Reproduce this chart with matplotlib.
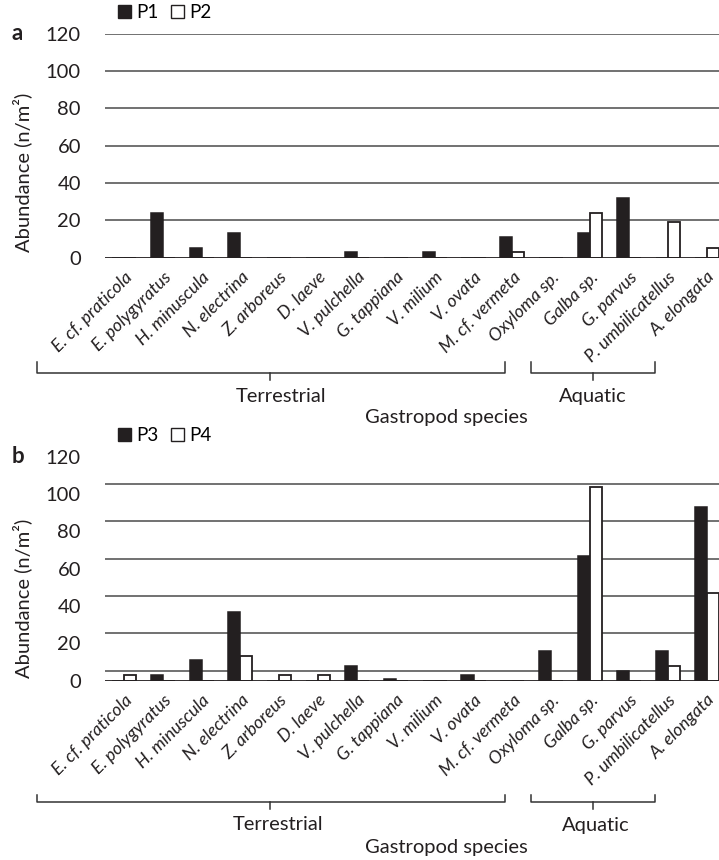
import numpy as np
import matplotlib
matplotlib.use("Agg")
import matplotlib.pyplot as plt
import matplotlib.transforms as mtransforms
from matplotlib.patches import Patch
from matplotlib.lines import Line2D

plt.rcParams['font.family'] = ['Lato', 'DejaVu Sans']

species = ["E. cf. praticola", "E. polygyratus", "H. minuscula", "N. electrina",
           "Z. arboreus", "D. laeve", "V. pulchella", "G. tappiana", "V. milium",
           "V. ovata", "M. cf. vermeta", "Oxyloma sp.", "Galba sp.", "G. parvus",
           "P. umbilicatellus", "A. elongata"]

p1 = [0, 24, 5, 13, 0, 0, 3, 0, 3, 0, 11, 0, 13, 32, 0, 0]
p2 = [0, 0, 0, 0, 0, 0, 0, 0, 0, 0, 3, 0, 24, 0, 19, 5]
p3 = [0, 3, 11, 37, 0, 0, 8, 1, 0, 3, 0, 16, 67, 5, 16, 93]
p4 = [3, 0, 0, 13, 3, 3, 0, 0, 0, 0, 0, 0, 104, 0, 8, 47]

yticks = [0, 20, 40, 60, 80, 100, 120]
grid_a = [20, 40, 60, 80, 100, 120]
grid_b = [5.3, 25.3, 45.3, 65.3, 85.3, 105.3]   # grid sits off the tick labels in panel b

W, H = 719, 860
dark = "#231f20"
FS = 14.5


def fx(x):
    return x / W


def fy(y):
    return 1 - y / H


def panel(base_px, vals_l, vals_r, names, gridlines, letter):
    ax = fig.add_axes([fx(104.5), fy(base_px), fx(719) - fx(104.5), 224 / H])
    x = np.arange(len(species))
    w = 0.31
    for g in gridlines:
        ax.axhline(g, color="#4a4a4a", lw=1.1, zorder=1)
    ax.axhline(0, color=dark, lw=1.3, zorder=3)
    ax.bar(x - w / 2, vals_l, w, color=dark, edgecolor=dark, lw=1.1, zorder=2)
    ax.bar(x + w / 2, vals_r, w, color="white", edgecolor=dark, lw=1.3, zorder=2)
    ax.set_ylim(0, 120)
    ax.set_xlim(-0.5, 15.32)
    ax.set_yticks(yticks)
    ax.set_xticks(x)
    ax.set_xticklabels(species, rotation=45, ha="right", rotation_mode="anchor",
                       style="italic", fontsize=12.8, color=dark)
    shift = mtransforms.ScaledTranslation(8 / 100, -4 / 100, fig.dpi_scale_trans)
    for lab in ax.get_xticklabels():
        lab.set_transform(lab.get_transform() + shift)
    ax.tick_params(axis="x", length=0, pad=8)
    ax.tick_params(axis="y", length=0, pad=17, labelsize=FS, colors=dark)
    for s in ax.spines.values():
        s.set_visible(False)
    handles = [Patch(facecolor=dark, edgecolor=dark), Patch(facecolor="white", edgecolor=dark)]
    fig.legend(handles, names, loc="upper left",
               bbox_to_anchor=(fx(118), fy(base_px - 258 + 4)), ncol=2, frameon=False,
               fontsize=13.5, handlelength=0.7, handleheight=0.7, handletextpad=0.25,
               columnspacing=0.7, borderaxespad=0, borderpad=0)
    fig.text(fx(12), fy(base_px - 224), letter, fontsize=16, fontweight="bold",
             ha="left", va="center", color=dark)
    return ax


def bracket(x0, x1, xm, ytop, yline, ynotch):
    kw = dict(color="#333333", lw=1.1, transform=fig.transFigure)
    fig.add_artist(Line2D([fx(x0), fx(x0), fx(x1), fx(x1)],
                          [fy(ytop), fy(yline), fy(yline), fy(ytop)], **kw))
    fig.add_artist(Line2D([fx(xm), fx(xm)], [fy(yline), fy(ynotch)], **kw))


fig = plt.figure(figsize=(W / 100, H / 100), dpi=100)

panel(257.7, p1, p2, ["P1", "P2"], grid_a, "a")
panel(680.7, p3, p4, ["P3", "P4"], grid_b, "b")

fig.text(fx(22), fy(172), "Abundance (n/m²)", rotation=90, ha="center", va="center",
         fontsize=FS, color=dark)
fig.text(fx(22), fy(598), "Abundance (n/m²)", rotation=90, ha="center", va="center",
         fontsize=FS, color=dark)

# group brackets, panel a
bracket(37, 505, 270, 362, 373, 380)
bracket(531, 655, 593, 362, 373, 380)
fig.text(fx(281), fy(396), "Terrestrial", ha="center", va="center", fontsize=FS, color=dark)
fig.text(fx(593), fy(396), "Aquatic", ha="center", va="center", fontsize=FS, color=dark)
fig.text(fx(446), fy(418), "Gastropod species", ha="center", va="center", fontsize=FS, color=dark)

# group brackets, panel b
bracket(37, 505, 270, 795, 802, 809)
bracket(531, 655, 593, 795, 802, 809)
fig.text(fx(278), fy(825), "Terrestrial", ha="center", va="center", fontsize=FS, color=dark)
fig.text(fx(596), fy(825), "Aquatic", ha="center", va="center", fontsize=FS, color=dark)
fig.text(fx(446), fy(848), "Gastropod species", ha="center", va="center", fontsize=FS, color=dark)

fig.savefig("out.png", dpi=100)
